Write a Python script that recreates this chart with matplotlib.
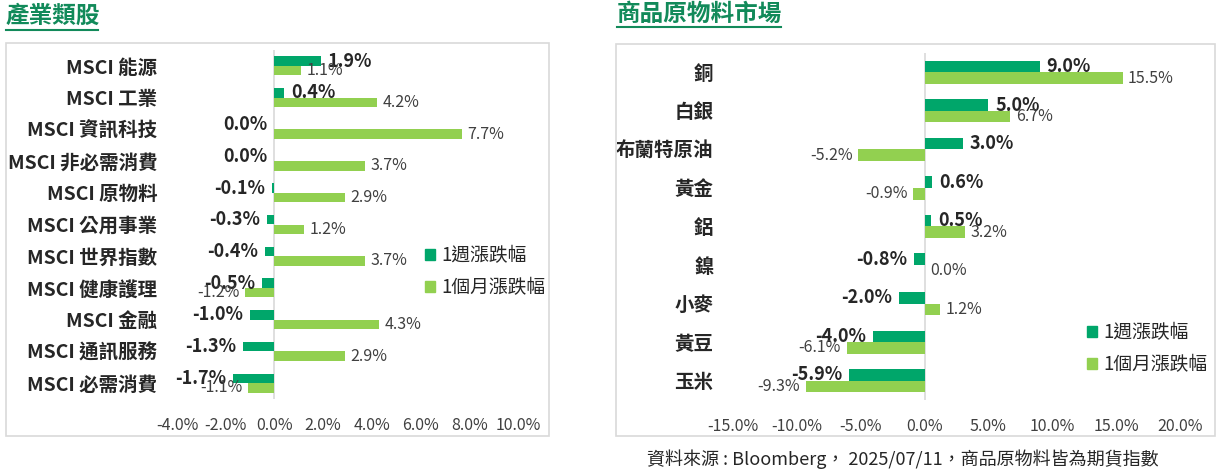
import matplotlib.pyplot as plt
import numpy as np
from matplotlib.lines import Line2D
from matplotlib.patches import Patch, Rectangle

plt.rcParams['font.family'] = ['Noto Sans CJK TC', 'DejaVu Sans']

W, H = 1217, 470

# 產業類股 (週 / 月 漲跌幅, %)
sector_names = ['MSCI 能源', 'MSCI 工業', 'MSCI 資訊科技', 'MSCI 非必需消費', 'MSCI 原物料',
                'MSCI 公用事業', 'MSCI 世界指數', 'MSCI 健康護理', 'MSCI 金融',
                'MSCI 通訊服務', 'MSCI 必需消費']
sector_week = [1.9, 0.4, 0.0, 0.0, -0.1, -0.3, -0.4, -0.5, -1.0, -1.3, -1.7]
sector_month = [1.1, 4.2, 7.7, 3.7, 2.9, 1.2, 3.7, -1.2, 4.3, 2.9, -1.1]
sector_ticks = [-4, -2, 0, 2, 4, 6, 8, 10]

# 商品原物料市場
commodity_names = ['銅', '白銀', '布蘭特原油', '黃金', '鋁', '鎳', '小麥', '黃豆', '玉米']
commodity_week = [9.0, 5.0, 3.0, 0.6, 0.5, -0.8, -2.0, -4.0, -5.9]
commodity_month = [15.5, 6.7, -5.2, -0.9, 3.2, 0.0, 1.2, -6.1, -9.3]
commodity_ticks = [-15, -10, -5, 0, 5, 10, 15, 20]

series_labels = ['1週漲跌幅', '1個月漲跌幅']
source_note = '資料來源 : Bloomberg， 2025/07/11，商品原物料皆為期貨指數'

DARK = '#00A66A'
LIGHT = '#92D050'
TEXT = '#262626'
LINE = '#D9D9D9'
TITLE = '#128A5A'

fig = plt.figure(figsize=(W / 100, H / 100), dpi=100)


def fx(x):
    return x / W


def fy(y):
    return 1 - y / H


def px_axes(x0, y0, x1, y1):
    return fig.add_axes([fx(x0), fy(y1), (x1 - x0) / W, (y1 - y0) / H])


def frame(x0, y0, x1, y1):
    fig.patches.append(Rectangle((fx(x0), fy(y1)), (x1 - x0) / W, (y1 - y0) / H,
                                 transform=fig.transFigure, fill=False,
                                 edgecolor=LINE, lw=1.2))


def heading(text, x, y, underline_end, underline_y):
    fig.text(fx(x), fy(y), text, fontsize=17, fontweight='bold', color=TITLE,
             ha='left', va='center')
    fig.add_artist(Line2D([fx(x), fx(underline_end)], [fy(underline_y)] * 2,
                          transform=fig.transFigure, color=TITLE, lw=1.5))


def panel(ax, names, week, month, ticks, leg_x, leg_y):
    pos = np.arange(len(names))
    h = 0.3
    ax.barh(pos - h / 2, week, height=h, color=DARK)
    ax.barh(pos + h / 2, month, height=h, color=LIGHT)
    ax.set_ylim(len(names) - 0.5, -0.5)
    ax.set_xlim(ticks[0], ticks[-1])
    ax.axvline(0, color=LINE, lw=1.2, zorder=0)

    for i, (w, m) in enumerate(zip(week, month)):
        right = w > 0
        ax.annotate(f'{w:.1f}%', (w, i - h / 2), xytext=(5 if right else -5, 0),
                    textcoords='offset points', ha='left' if right else 'right',
                    va='center', fontsize=13, fontweight='bold', color=TEXT)
        right = m >= 0
        ax.annotate(f'{m:.1f}%', (m, i + h / 2), xytext=(4 if right else -4, 0),
                    textcoords='offset points', ha='left' if right else 'right',
                    va='center', fontsize=11.5, color='#404040')

    ax.set_yticks(pos, names)
    ax.set_xticks(ticks, [f'{t:.1f}%' for t in ticks])
    ax.tick_params(axis='y', length=0, pad=14, labelsize=14, labelcolor=TEXT)
    ax.tick_params(axis='x', length=0, pad=13, labelsize=11.5, labelcolor='#404040')
    for lab in ax.get_yticklabels():
        lab.set_fontweight('bold')
    for s in ax.spines.values():
        s.set_visible(False)
    ax.patch.set_alpha(0)

    handles = [Patch(color=DARK), Patch(color=LIGHT)]
    fig.legend(handles, series_labels, loc='upper left',
               bbox_to_anchor=(fx(leg_x), fy(leg_y)), frameon=False,
               fontsize=13.5, handlelength=0.55, handleheight=0.55,
               handletextpad=0.3, labelspacing=0.6, borderpad=0,
               borderaxespad=0, labelcolor=TEXT)


frame(6, 43, 549, 436)
frame(616, 44, 1215, 436)
heading('產業類股', 6, 16, 98, 30)
heading('商品原物料市場', 617, 14, 781, 27)

ax1 = px_axes(177, 50, 518, 399)
panel(ax1, sector_names, sector_week, sector_month, sector_ticks, 425, 245)

ax2 = px_axes(733, 53, 1180, 400)
panel(ax2, commodity_names, commodity_week, commodity_month, commodity_ticks, 1087, 322)

fig.text(fx(903), fy(459), source_note, ha='center', va='center', fontsize=13, color=TEXT)

fig.savefig('out.png', dpi=100)
